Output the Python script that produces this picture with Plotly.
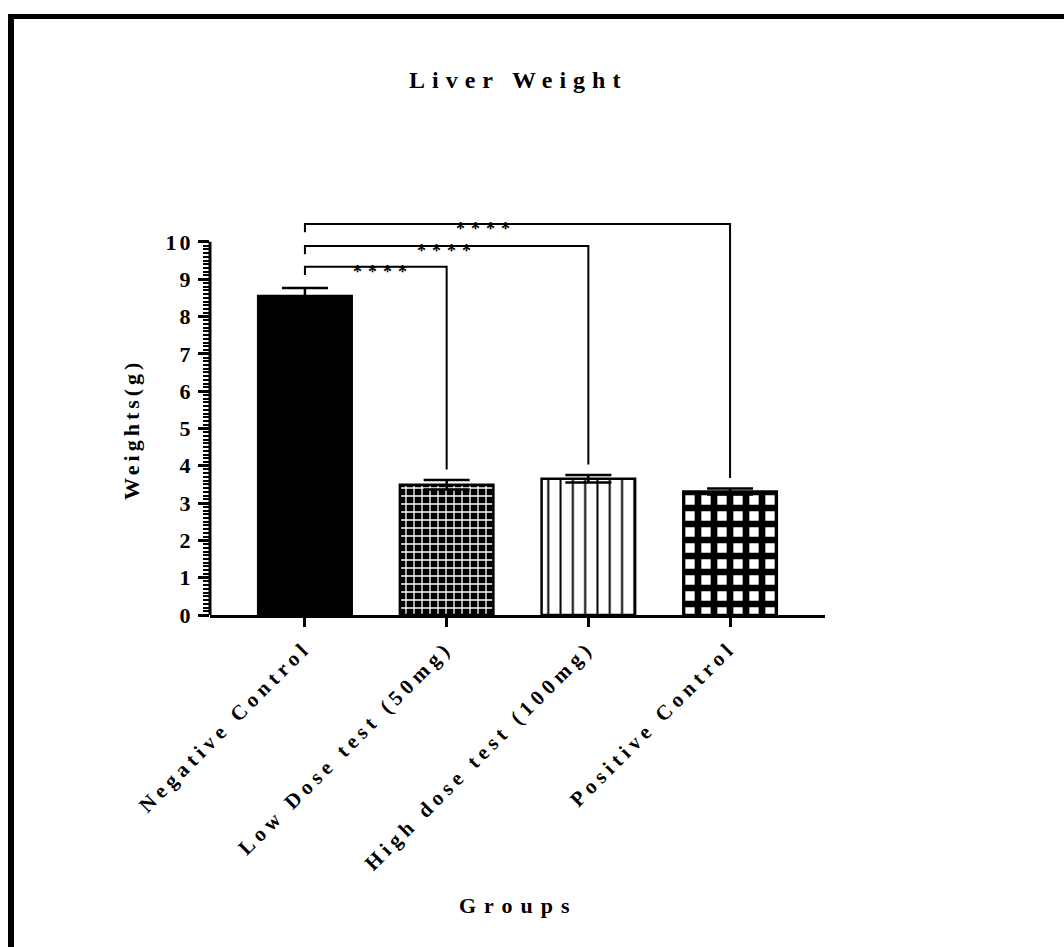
import numpy as np
import plotly.graph_objects as go

# ---------------- data ----------------
groups = ["Negative Control", "Low Dose test (50mg)", "High dose test (100mg)", "Positive Control"]
means = [8.55, 3.49, 3.65, 3.31]
sems = [0.21, 0.13, 0.10, 0.08]
y_tickvals = list(range(0, 11))
comparisons = [(0, 1, "****"), (0, 2, "****"), (0, 3, "****")]

# ---------------- styling constants ----------------
FONT = "Liberation Serif"
L, R, T, B = 210, 239, 212, 332
W, H = 1064, 947
PW, PH = W - L - R, H - T - B
YMAX = 10.8

def px_x(px):
    return (px - L) / PW

def px_y(py):
    return (H - B - py) / PH

def spaced(text, sp):
    return f'<span style="letter-spacing:{sp}px">{text}</span>'

bar_styles = [
    dict(color="black", pattern=dict(shape="")),
    dict(color="black", pattern=dict(shape="+", fgcolor="white", bgcolor="black",
                                     size=8, solidity=0.3, fillmode="replace")),
    dict(color="white", pattern=dict(shape="|", fgcolor="black", bgcolor="white",
                                     size=12.3, solidity=0.16, fillmode="replace")),
    dict(color="white", pattern=dict(shape="+", fgcolor="black", bgcolor="white",
                                     size=16, solidity=0.66, fillmode="replace")),
]

fig = go.Figure()
for i, (g, m, s, st) in enumerate(zip(groups, means, sems, bar_styles)):
    fig.add_trace(go.Bar(
        x=[i], y=[m], width=0.66, name=g,
        marker=dict(color=st["color"], line=dict(color="black", width=2.5),
                    pattern=st["pattern"]),
        error_y=dict(type="data", array=[s], visible=True, color="black",
                     thickness=2.5, width=23),
        showlegend=False,
    ))

# significance brackets
bracket_y = [9.33, 9.89, 10.48]
leg_drop = 0.22
gap = 0.28
star_x = [0.55, 1.0, 1.28]
shapes = []
annotations = []
for (a, b, lab), by, sx in zip(comparisons, bracket_y, star_x):
    bottom_right = means[b] + sems[b] + gap
    shapes.append(dict(type="path", xref="x", yref="y",
                       path=f"M {a},{by - leg_drop} L {a},{by} L {b},{by} L {b},{bottom_right}",
                       line=dict(color="black", width=2)))
    annotations.append(dict(x=sx, y=by, xref="x", yref="y",
                            text="<b>" + spaced(lab, 6) + "</b>",
                            showarrow=False, yshift=-5,
                            font=dict(family=FONT, size=18, color="black")))

# y-axis line (only up to 10)
shapes.append(dict(type="line", xref="x domain", yref="y", x0=0, x1=0, y0=0, y1=10,
                   line=dict(color="black", width=3)))

# outer frame (top and left only)
shapes.append(dict(type="line", xref="paper", yref="paper",
                   x0=px_x(8), x1=px_x(W + 5), y0=px_y(16.5), y1=px_y(16.5),
                   line=dict(color="black", width=5)))
shapes.append(dict(type="line", xref="paper", yref="paper",
                   x0=px_x(11), x1=px_x(11), y0=px_y(14), y1=px_y(H + 5),
                   line=dict(color="black", width=6)))

# titles
annotations.append(dict(x=px_x(518), y=px_y(80), xref="paper", yref="paper",
                        xanchor="center", yanchor="middle",
                        text="<b>" + spaced("Liver Weight", 7) + "</b>", showarrow=False,
                        font=dict(family=FONT, size=24, color="black")))
annotations.append(dict(x=px_x(131), y=px_y(430), xref="paper", yref="paper",
                        xanchor="center", yanchor="middle",
                        text="<b>" + spaced("Weights(g)", 4) + "</b>", showarrow=False, textangle=-90,
                        font=dict(family=FONT, size=22, color="black")))
annotations.append(dict(x=px_x(518), y=px_y(905), xref="paper", yref="paper",
                        xanchor="center", yanchor="middle",
                        text="<b>" + spaced("Groups", 8) + "</b>", showarrow=False,
                        font=dict(family=FONT, size=22, color="black")))

minor_vals = [v for v in np.round(np.arange(0, 10.0001, 0.1), 1) if abs(v - round(v)) > 1e-6]

fig.update_layout(
    width=W, height=H,
    margin=dict(l=L, r=R, t=T, b=B, autoexpand=False),
    paper_bgcolor="white", plot_bgcolor="white",
    shapes=shapes, annotations=annotations,
    barmode="overlay",
    xaxis=dict(
        range=[-0.67, 3.67],
        tickmode="array", tickvals=list(range(len(groups))),
        ticktext=["<b>" + spaced(g, 5) + "</b>" for g in groups],
        tickangle=-45,
        tickfont=dict(family=FONT, size=21, color="black"),
        showline=True, linecolor="black", linewidth=3,
        ticks="outside", ticklen=9, tickwidth=3, tickcolor="black",
        showgrid=False, zeroline=False,
    ),
    yaxis=dict(
        range=[0, YMAX],
        tickmode="array", tickvals=y_tickvals,
        ticktext=["<b>" + spaced(str(v), 3) + "</b>" for v in y_tickvals],
        tickfont=dict(family=FONT, size=22, color="black"),
        showline=False,
        ticks="outside", ticklen=11, tickwidth=3, tickcolor="black",
        minor=dict(tickmode="array", tickvals=minor_vals, ticks="outside",
                   ticklen=6, tickwidth=2, tickcolor="black", showgrid=False),
        showgrid=False, zeroline=False,
    ),
)

fig.write_html("out.html", config={"displayModeBar": False},
               post_script="document.body.style.margin='0px';")
